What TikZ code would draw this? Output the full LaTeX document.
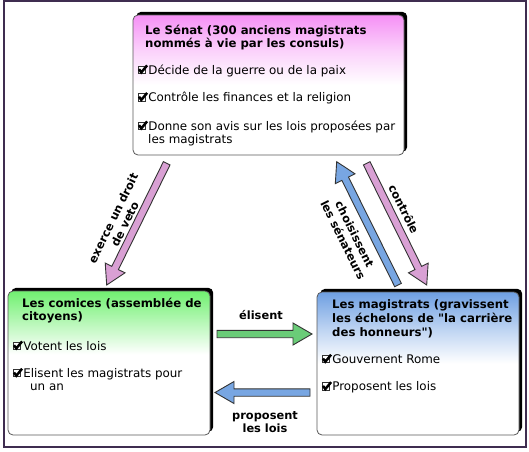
\documentclass[tikz,border=0pt]{standalone}
\usepackage{fontspec}
\setmainfont{DejaVu Sans}[Ligatures=TeXOff]
\usetikzlibrary{calc,shadows}
\definecolor{framec}{HTML}{3F2D50}
\definecolor{senatc}{HTML}{F590F5}
\definecolor{comc}{HTML}{70F070}
\definecolor{magc}{HTML}{6E9FE2}
\definecolor{apink}{HTML}{D9A0D4}
\definecolor{ablue}{HTML}{78A6E2}
\definecolor{agreen}{HTML}{6ACC78}
\pgfdeclareverticalshading{senatsh}{100bp}{color(0bp)=(white); color(50bp)=(white); color(62bp)=(senatc!40!white); color(75bp)=(senatc); color(100bp)=(senatc)}
\pgfdeclareverticalshading{comsh}{100bp}{color(0bp)=(white); color(53bp)=(white); color(63bp)=(comc!45!white); color(75bp)=(comc); color(100bp)=(comc)}
\pgfdeclareverticalshading{magsh}{100bp}{color(0bp)=(white); color(50bp)=(white); color(62bp)=(magc!45!white); color(75bp)=(magc); color(100bp)=(magc)}
\newcommand\chk{\tikz[baseline=0pt,x=1pt,y=1pt]{\draw[black!80, line width=1pt, fill=white] (0.5,0.5) rectangle (8,8); \draw[black, line width=2.5pt, line join=miter] (1.3,4.8) -- (3.6,1.6) -- (9.4,8.6);}}
\newcommand\fatarrow[3]{%
  \coordinate (fa-h) at ($(#3)!19pt!(#2)$);
  \draw[arrowline, fill=#1] ($(#2)!3.7pt!90:(#3)$) -- ($(fa-h)!3.7pt!-90:(#2)$) -- ($(fa-h)!11pt!-90:(#2)$) -- (#3) -- ($(fa-h)!11pt!90:(#2)$) -- ($(fa-h)!3.7pt!90:(#2)$) -- ($(#2)!3.7pt!-90:(#3)$) -- cycle;}
\tikzset{
  box/.style={rectangle, draw=black!65, line width=0.8pt, rounded corners=5pt,
    drop shadow={shadow xshift=3.2pt, shadow yshift=3.2pt, fill=black, opacity=1}},
  ttl/.style={anchor=base west, font=\fontsize{11.7}{13}\selectfont\bfseries, inner sep=0pt},
  itm/.style={anchor=base west, font=\fontsize{11.9}{13}\selectfont, inner sep=0pt},
  lbl/.style={font=\fontsize{11.4}{13}\selectfont\bfseries, align=center, inner sep=0pt},
  arrowline/.style={draw=black!80, line width=0.9pt, line join=miter},
}
\begin{document}
\begin{tikzpicture}[x=1pt,y=-1pt]
\useasboundingbox (0,0) rectangle (529,451);
\fill[white] (0,0) rectangle (529,451);
\draw[framec, line width=2pt] (3.5,1) rectangle (526,447);

% boxes
\node[box, shading=senatsh, minimum width=271pt, minimum height=140pt] (senat) at (268.5,85) {};
\node[box, shading=comsh, minimum width=202pt, minimum height=144pt] (comices) at (109,363) {};
\node[box, shading=magsh, minimum width=202pt, minimum height=143pt] (magis) at (418,363.5) {};

% Senat text
\node[ttl] (s-t1) at (145,34.5) {Le Sénat (300 anciens magistrats};
\node[ttl] (s-t2) at (145,47.5) {nommés à vie par les consuls)};
\node[itm] (s-i1) at (137.5,74) {\chk Décide de la guerre ou de la paix};
\node[itm] (s-i2) at (137.5,101.5) {\chk Contrôle les finances et la religion};
\node[itm] (s-i3) at (137.5,130) {\chk Donne son avis sur les lois proposées par};
\node[itm] (s-i3b) at (148,143) {les magistrats};

% Comices text
\node[ttl] (c-t1) at (22,307.3) {Les comices (assemblée de};
\node[ttl] (c-t2) at (22,320) {citoyens)};
\node[itm] (c-i1) at (12.5,350) {\chk Votent les lois};
\node[itm] (c-i2) at (12.5,377.3) {\chk Elisent les magistrats pour};
\node[itm] (c-i2b) at (30,390) {un an};

% Magistrats text
\node[ttl] (m-t1) at (332,308.3) {Les magistrats (gravissent};
\node[ttl] (m-t2) at (332,322.3) {les échelons de "la carrière};
\node[ttl] (m-t3) at (332,336) {des honneurs")};
\node[itm] (m-i1) at (321.5,363.3) {\chk Gouvernent Rome};
\node[itm] (m-i2) at (321.5,390.7) {\chk Proposent les lois};

% arrow ends
\coordinate (vetoT) at (166.7,163.3);
\coordinate (vetoH) at (106.7,285);
\coordinate (ctrlT) at (366.7,163.3);
\coordinate (ctrlH) at (426.7,285);
\coordinate (choT) at (398,285);
\coordinate (choH) at (336.7,161.7);
\coordinate (eliT) at (217,334);
\coordinate (eliH) at (312,334);
\coordinate (proT) at (310,392.5);
\coordinate (proH) at (215,392.5);

\fatarrow{apink}{vetoT}{vetoH}
\fatarrow{apink}{ctrlT}{ctrlH}
\fatarrow{ablue}{choT}{choH}
\fatarrow{agreen}{eliT}{eliH}
\fatarrow{ablue}{proT}{proH}

% labels
\node[lbl, rotate=63.8] (l-veto) at (119,221) {exerce un droit\\de veto};
\node[lbl, rotate=-63.8] (l-ctrl) at (404,209) {contrôle};
\node[lbl, rotate=-63.6] (l-cho) at (349,237) {choisissent\\les sénateurs};
\node[lbl, anchor=base] (l-eli) at (261,319) {élisent};
\node[lbl] (l-pro) at (265,422) {proposent\\les lois};
\end{tikzpicture}
\end{document}
